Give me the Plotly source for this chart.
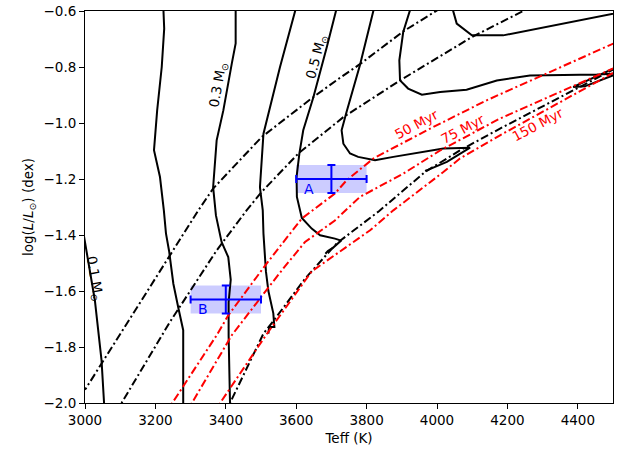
import plotly.graph_objects as go

# ---- mass tracks (Teff [K], log L/Lsun) ----
trk01_teff = [2987, 3002, 3028, 3047, 3055, 3057]
trk01_logl = [-1.33, -1.443, -1.633, -1.848, -2.0, -2.06]

trk02_teff = [3222, 3225, 3218, 3205, 3196, 3213, 3224, 3230, 3239, 3251, 3266, 3279, 3279, 3279]
trk02_logl = [-0.57, -0.663, -0.8, -0.955, -1.097, -1.193, -1.312, -1.394, -1.458, -1.574, -1.665, -1.740, -2.0, -2.05]

trk03_teff = [3428, 3428, 3417, 3393, 3374, 3364, 3372, 3388, 3407, 3414, 3408, 3408, 3412, 3413]
trk03_logl = [-0.57, -0.716, -0.788, -0.955, -1.062, -1.229, -1.33, -1.425, -1.479, -1.56, -1.64, -1.76, -2.0, -2.05]

trk04_teff = [3604, 3597, 3554, 3507, 3497, 3505, 3507, 3514, 3521, 3535, 3538, 3523, 3521]
trk04_logl = [-0.565, -0.6, -0.8, -1.038, -1.229, -1.312, -1.395, -1.53, -1.60, -1.68, -1.729, -1.729, -1.752]

trk05_teff = [3720, 3713, 3687, 3649, 3620, 3609, 3601, 3602, 3616, 3644, 3668, 3710, 3728, 3705, 3690, 3683]
trk05_logl = [-0.565, -0.6, -0.729, -0.907, -1.026, -1.109, -1.193, -1.264, -1.339, -1.377, -1.401, -1.413, -1.42, -1.445, -1.457, -1.467]

trk06_teff = [3827, 3819, 3781, 3743, 3729, 3734, 3753, 3776, 3824, 3876, 4018, 4094, 4028, 3971, 3966]
trk06_logl = [-0.56, -0.6, -0.794, -0.961, -1.026, -1.074, -1.109, -1.121, -1.133, -1.121, -1.091, -1.088, -1.139, -1.169, -1.171]

trk07_teff = [3930, 3923, 3904, 3893, 3895, 3918, 3957, 4009, 4084, 4170, 4264, 4454, 4499, 4530, 4530, 4387, 4420, 4530]
trk07_logl = [-0.57, -0.6, -0.675, -0.776, -0.848, -0.877, -0.899, -0.889, -0.881, -0.848, -0.83, -0.827, -0.824, -0.822, -0.79, -0.871, -0.869, -0.815]

trk08_teff = [4043, 4046, 4056, 4099, 4188, 4499, 4540]
trk08_logl = [-0.562, -0.6, -0.645, -0.687, -0.687, -0.612, -0.60]

# ---- black isochrones ----
iso1_teff = [2986, 3002, 3322, 3341, 3364, 3502, 3649, 3724, 3781, 3904, 3999, 4037]
iso1_logl = [-1.962, -1.949, -1.312, -1.276, -1.234, -1.05, -0.907, -0.839, -0.79, -0.673, -0.6, -0.569]

iso2_teff = [3085, 3104, 3241, 3374, 3459, 3502, 3606, 3734, 3895, 4099, 4245, 4293]
iso2_logl = [-2.033, -2.0, -1.711, -1.455, -1.312, -1.246, -1.109, -0.979, -0.848, -0.693, -0.6, -0.569]

iso3_teff = [3400, 3412, 3507, 3540, 3625, 3715, 3835, 3966, 4065, 4179, 4496, 4530]
iso3_logl = [-2.04, -2.0, -1.752, -1.699, -1.556, -1.43, -1.315, -1.175, -1.098, -1.02, -0.812, -0.79]

# ---- red isochrones ----
r50_teff = [3230, 3248, 3374, 3407, 3516, 3616, 3710, 3743, 3819, 3971, 4141, 4496, 4530]
r50_logl = [-2.04, -2.0, -1.758, -1.687, -1.502, -1.341, -1.252, -1.205, -1.127, -1.026, -0.919, -0.719, -0.70]

r75_teff = [3285, 3304, 3417, 3511, 3563, 3625, 3710, 3781, 3904, 4009, 4179, 4499, 4530]
r75_logl = [-2.04, -2.0, -1.758, -1.604, -1.52, -1.425, -1.348, -1.264, -1.181, -1.098, -0.984, -0.806, -0.79]

r150_teff = [3365, 3384, 3514, 3644, 3810, 3876, 4018, 4065, 4179, 4496, 4530]
r150_logl = [-2.04, -2.0, -1.758, -1.53, -1.383, -1.312, -1.175, -1.127, -1.044, -0.824, -0.81]

# ---- observed stars ----
star_names = ["A", "B"]
star_teff = [3700, 3400]
star_teff_err = [100, 100]
star_logl = [-1.20, -1.63]
star_logl_err = [0.05, 0.05]
star_label_teff = [3635, 3334]
star_label_logl = [-1.235, -1.663]

# ---- labels ----
mass_labels = ["0.1 M<sub>⊙</sub>", "0.3 M<sub>⊙</sub>", "0.5 M<sub>⊙</sub>"]
mass_label_teff = [3028, 3379, 3658]
mass_label_logl = [-1.556, -0.865, -0.764]
mass_label_angle = [80, -80, -75]

age_labels = ["50 Myr", "75 Myr", "150 Myr"]
age_label_teff = [3942, 4072, 4288]
age_label_logl = [-1.005, -1.02, -1.005]

x_ticks = [3000, 3200, 3400, 3600, 3800, 4000, 4200, 4400]
y_ticks = [-2.0, -1.8, -1.6, -1.4, -1.2, -1.0, -0.8, -0.6]

FONT = "DejaVu Sans"
FS = 13.5
DASHDOT = "8px,3px,2px,3px"

fig = go.Figure()

tracks = [(trk01_teff, trk01_logl), (trk02_teff, trk02_logl), (trk03_teff, trk03_logl),
          (trk04_teff, trk04_logl), (trk05_teff, trk05_logl), (trk06_teff, trk06_logl),
          (trk07_teff, trk07_logl), (trk08_teff, trk08_logl)]
for tx, ty in tracks:
    fig.add_trace(go.Scatter(x=tx, y=ty, mode="lines", line=dict(color="black", width=2),
                             showlegend=False, hoverinfo="skip"))

for tx, ty in [(iso1_teff, iso1_logl), (iso2_teff, iso2_logl), (iso3_teff, iso3_logl)]:
    fig.add_trace(go.Scatter(x=tx, y=ty, mode="lines",
                             line=dict(color="black", width=2, dash=DASHDOT),
                             showlegend=False, hoverinfo="skip"))

for tx, ty in [(r50_teff, r50_logl), (r75_teff, r75_logl), (r150_teff, r150_logl)]:
    fig.add_trace(go.Scatter(x=tx, y=ty, mode="lines",
                             line=dict(color="red", width=2, dash=DASHDOT),
                             showlegend=False, hoverinfo="skip"))

# shaded boxes for stars
for t, te, l, le in zip(star_teff, star_teff_err, star_logl, star_logl_err):
    fig.add_shape(type="rect", xref="x", yref="y", x0=t - te, x1=t + te, y0=l - le, y1=l + le,
                  fillcolor="rgba(0,0,255,0.2)", line=dict(width=0), layer="below")

fig.add_trace(go.Scatter(
    x=star_teff, y=star_logl, mode="markers",
    marker=dict(size=1, color="blue"),
    error_x=dict(type="data", array=star_teff_err, color="blue", thickness=2, width=4),
    error_y=dict(type="data", array=star_logl_err, color="blue", thickness=2, width=4),
    showlegend=False, hoverinfo="skip"))

for name, x, y in zip(star_names, star_label_teff, star_label_logl):
    fig.add_annotation(x=x, y=y, text=name, showarrow=False,
                       font=dict(family=FONT, size=14, color="blue"))

for txt, x, y, a in zip(mass_labels, mass_label_teff, mass_label_logl, mass_label_angle):
    fig.add_annotation(x=x, y=y, text=txt, showarrow=False, textangle=a,
                       font=dict(family=FONT, size=FS, color="black"))

for txt, x, y in zip(age_labels, age_label_teff, age_label_logl):
    fig.add_annotation(x=x, y=y, text=txt, showarrow=False, textangle=-28,
                       font=dict(family=FONT, size=FS, color="red"))

axis_common = dict(showline=True, linecolor="black", linewidth=1, mirror=True,
                   ticks="outside", ticklen=5, tickwidth=1, tickcolor="black",
                   showgrid=False, zeroline=False, automargin=False,
                   tickfont=dict(family=FONT, size=FS, color="black"))

fig.update_xaxes(range=[3000, 4500], tickvals=x_ticks, ticktext=[str(v) for v in x_ticks],
                 title=dict(text="Teff (K)", font=dict(family=FONT, size=FS, color="black"), standoff=6),
                 **axis_common)
fig.update_yaxes(range=[-2.0, -0.6], tickvals=y_ticks,
                 ticktext=[("\u2212" if v < 0 else "") + f"{abs(v):.1f}" for v in y_ticks],
                 title=dict(text="log(<i>L</i>/<i>L</i><sub>⊙</sub>) (dex)",
                            font=dict(family=FONT, size=FS, color="black"), standoff=6),
                 **axis_common)

fig.update_layout(width=628, height=452, margin=dict(l=85, r=15, t=11, b=49, autoexpand=False),
                  plot_bgcolor="white", paper_bgcolor="white",
                  font=dict(family=FONT, size=FS, color="black"))

fig.write_html("out.html", config={"displayModeBar": False},
               post_script="document.body.style.margin='0';")
